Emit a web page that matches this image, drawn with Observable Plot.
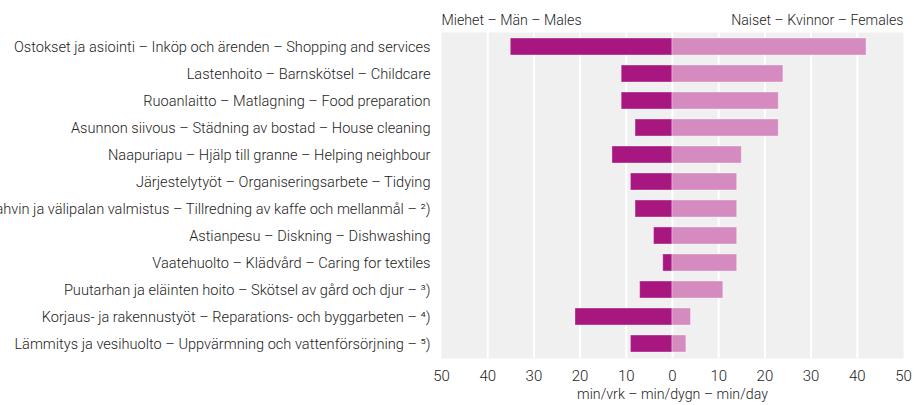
<!DOCTYPE html>
<html>
<head>
<meta charset="utf-8">
<script src="https://cdn.jsdelivr.net/npm/d3@7"></script>
<script src="https://cdn.jsdelivr.net/npm/@observablehq/plot@0.6"></script>
<style>
  html, body { margin: 0; padding: 0; background: #fff; overflow: hidden; }
  #chart svg { overflow: visible; font-family: Roboto, sans-serif; font-weight: 300; }
</style>
</head>
<body>
<div id="chart"></div>
<script>
const categories = [
  "Ostokset ja asiointi – Inköp och ärenden – Shopping and services",
  "Lastenhoito – Barnskötsel – Childcare",
  "Ruoanlaitto – Matlagning – Food preparation",
  "Asunnon siivous – Städning av bostad – House cleaning",
  "Naapuriapu – Hjälp till granne – Helping neighbour",
  "Järjestelytyöt – Organiseringsarbete – Tidying",
  "Kahvin ja välipalan valmistus – Tillredning av kaffe och mellanmål – ²)",
  "Astianpesu – Diskning – Dishwashing",
  "Vaatehuolto – Klädvård – Caring for textiles",
  "Puutarhan ja eläinten hoito – Skötsel av gård och djur – ³)",
  "Korjaus- ja rakennustyöt – Reparations- och byggarbeten – ⁴)",
  "Lämmitys ja vesihuolto – Uppvärmning och vattenförsörjning – ⁵)"
];
const males = [35, 11, 11, 8, 13, 9, 8, 4, 2, 7, 21, 9];
const females = [42, 24, 23, 23, 15, 14, 14, 14, 14, 11, 4, 3];
const headers = ["Miehet – Män – Males", "Naiset – Kvinnor – Females"];
const xTicks = [-50, -40, -30, -20, -10, 0, 10, 20, 30, 40, 50];
const gridTicks = [-40, -30, -20, -10, 0, 10, 20, 30, 40];
const xLabel = "min/vrk – min/dygn – min/day";

const rows = categories.map((c, i) => ({category: c, male: males[i], female: females[i]}));

const chart = Plot.plot({
  width: 914,
  height: 405,
  marginLeft: 441,
  marginRight: 11,
  marginTop: 32,
  marginBottom: 47,
  style: {fontFamily: "Roboto, sans-serif", fontSize: "14px", color: "#1c1c1c", background: "transparent"},
  x: {domain: [-50, 50], ticks: xTicks, tickFormat: d => Math.abs(d), tickSize: 0, tickPadding: 12, label: null},
  y: {domain: categories, paddingInner: 0.37, paddingOuter: 0.125, tickSize: 0, tickPadding: 12, label: null},
  marks: [
    Plot.frame({fill: "#f0f0f0", stroke: null}),
    Plot.gridX(gridTicks, {stroke: "#fff", strokeOpacity: 1, strokeWidth: 2}),
    Plot.barX(rows, {y: "category", x1: 0, x2: d => -d.male, fill: "#a8177f", stroke: "#fff", strokeOpacity: 0.35, strokeWidth: 1, inset: 0}),
    Plot.barX(rows, {y: "category", x1: 0, x2: d => d.female, fill: "#d58bbf", stroke: "#fff", strokeOpacity: 0.35, strokeWidth: 1, inset: 0}),
    Plot.axisX({ticks: xTicks, tickFormat: d => Math.abs(d), tickSize: 0, tickPadding: 12, label: null, fontSize: 15}),
    Plot.axisY({tickSize: 0, tickPadding: 11, label: null, fontSize: 14.6}),
    Plot.text([xLabel], {x: 0, frameAnchor: "bottom", dy: 40, fontSize: 14.2, lineAnchor: "bottom"}),
    Plot.text([headers[0]], {x: -50, frameAnchor: "top", textAnchor: "start", dy: -8, lineAnchor: "bottom", fontSize: 14.2}),
    Plot.text([headers[1]], {x: 50, frameAnchor: "top", textAnchor: "end", dy: -8, lineAnchor: "bottom", fontSize: 14.2})
  ]
});
document.getElementById("chart").appendChild(chart);
</script>
</body>
</html>
